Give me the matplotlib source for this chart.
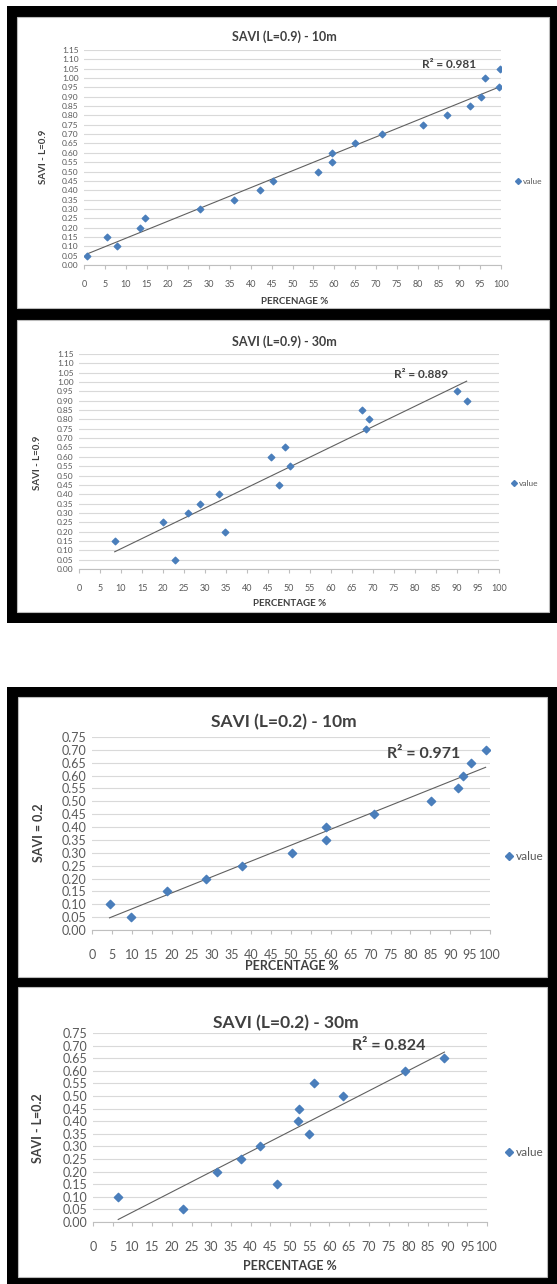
import numpy as np
import matplotlib
matplotlib.use("Agg")
import matplotlib.pyplot as plt
from matplotlib.patches import Rectangle
from matplotlib.lines import Line2D

plt.rcParams['font.family'] = ['Lato', 'DejaVu Sans']

# ---- data ----
# SAVI (L=0.9) - 10m
pct_09_10 = [0.8, 5.4, 7.8, 13.5, 14.7, 27.9, 35.9, 42.3, 45.4, 56.1, 59.5,
             59.5, 64.9, 71.5, 81.2, 87.0, 92.5, 95.1, 96.2, 99.6, 99.8]
savi_09_10 = [0.05, 0.15, 0.10, 0.20, 0.25, 0.30, 0.35, 0.40, 0.45, 0.50, 0.55,
              0.60, 0.65, 0.70, 0.75, 0.80, 0.85, 0.90, 1.00, 0.95, 1.05]
# SAVI (L=0.9) - 30m
pct_09_30 = [8.5, 20.1, 22.8, 26.0, 28.7, 33.3, 34.7, 45.6, 47.7, 49.1, 50.3,
             67.3, 68.3, 69.1, 89.9, 92.3]
savi_09_30 = [0.15, 0.25, 0.05, 0.30, 0.35, 0.40, 0.20, 0.60, 0.45, 0.65, 0.55,
              0.85, 0.75, 0.80, 0.95, 0.90]
# SAVI (L=0.2) - 10m
pct_02_10 = [4.4, 9.7, 18.9, 28.7, 37.8, 50.3, 58.7, 58.9, 70.8, 85.3, 92.0,
             93.1, 95.3, 98.9]
savi_02_10 = [0.10, 0.05, 0.15, 0.20, 0.25, 0.30, 0.35, 0.40, 0.45, 0.50, 0.55,
              0.60, 0.65, 0.70]
# SAVI (L=0.2) - 30m
pct_02_30 = [6.4, 22.8, 31.4, 37.5, 42.4, 46.7, 52.0, 52.4, 54.8, 56.0, 63.4,
             79.1, 89.2]
savi_02_30 = [0.10, 0.05, 0.20, 0.25, 0.30, 0.15, 0.40, 0.45, 0.35, 0.55, 0.50,
              0.60, 0.65]

titles = ["SAVI (L=0.9) - 10m", "SAVI (L=0.9) - 30m",
          "SAVI (L=0.2) - 10m", "SAVI (L=0.2) - 30m"]
ylabels = ["SAVI - L=0.9", "SAVI - L=0.9", "SAVI = 0.2", "SAVI - L=0.2"]
xlabels = ["PERCENAGE %", "PERCENTAGE %", "PERCENTAGE %", "PERCENTAGE %"]
r2_texts = ["R² = 0.981", "R² = 0.889", "R² = 0.971", "R² = 0.824"]
ymax = [1.15, 1.15, 0.75, 0.75]

W, H = 557, 1284
fig = plt.figure(figsize=(W / 100, H / 100), dpi=100)
fig.patch.set_facecolor('white')


def fx(x):
    return x / W


def fy(y):
    return 1 - y / H


def rect(x0, y0, x1, y1, **kw):
    fig.patches.append(Rectangle((fx(x0), fy(y1)), fx(x1) - fx(x0), fy(y0) - fy(y1),
                                 transform=fig.transFigure, zorder=-10, **kw))


# black frames and white chart areas
rect(7, 6, 557, 623, facecolor='black', edgecolor='none')
rect(7, 687, 557, 1284, facecolor='black', edgecolor='none')
rect(17, 17, 549, 308, facecolor='white', edgecolor='#bbbbbb', lw=0.8)
rect(17, 320, 549, 612, facecolor='white', edgecolor='#bbbbbb', lw=0.8)
rect(18, 697, 547, 977, facecolor='white', edgecolor='#bbbbbb', lw=0.8)
rect(18, 987, 547, 1277, facecolor='white', edgecolor='#bbbbbb', lw=0.8)

# plot boxes in pixels: left, right, top, bottom
boxes = [(84, 501, 50, 265), (79, 499, 354, 569),
         (92, 490, 737, 930), (93, 487, 1033, 1222)]
title_pos = [(284, 37), (284, 342), (284, 722), (286, 1023)]
ylab_pos = [(43, 157), (37, 463), (39, 833), (38, 1128)]
xlab_pos = [(295, 302), (290, 603), (292, 966), (290, 1266)]
leg_pos = [(510, 181), (506, 483), (497, 857), (497, 1153)]
r2_pos = [(81, 1.07), (75, 1.043), (74, 0.684), (65.7, 0.698)]

xs = [pct_09_10, pct_09_30, pct_02_10, pct_02_30]
ys = [savi_09_10, savi_09_30, savi_02_10, savi_02_30]

blue = '#4a7ebb'
txt = '#404040'

for i in range(4):
    small = i < 2
    l, r, t, b = boxes[i]
    ax = fig.add_axes([fx(l), fy(b), fx(r) - fx(l), fy(t) - fy(b)])
    ax.set_facecolor('none')
    x = np.array(xs[i])
    y = np.array(ys[i])

    # trendline over data range
    k, c = np.polyfit(x, y, 1)
    xl = np.array([x.min(), x.max()])
    ax.plot(xl, k * xl + c, color='#606060', lw=0.8, zorder=2)
    ax.scatter(x, y, marker='D', s=11 if small else 18, color=blue, zorder=3)

    ax.set_xlim(0, 100)
    ax.set_ylim(0, ymax[i])
    ax.set_xticks(np.arange(0, 101, 5))
    ax.set_yticks(np.arange(0, ymax[i] + 0.001, 0.05))
    ax.set_yticklabels(['%.2f' % v for v in np.arange(0, ymax[i] + 0.001, 0.05)])
    ax.grid(axis='y', color='#d9d9d9', lw=0.8)
    ax.set_axisbelow(True)
    for s in ['left', 'right', 'top']:
        ax.spines[s].set_visible(False)
    ax.spines['bottom'].set_color('#bfbfbf')
    ax.tick_params(axis='y', length=0, pad=4, labelsize=6 if small else 9,
                   labelcolor='#595959')
    ax.tick_params(axis='x', length=3, color='#bfbfbf', pad=8 if small else 11,
                   labelsize=6.5 if small else 9, labelcolor='#595959')

    ax.text(r2_pos[i][0], r2_pos[i][1], r2_texts[i], ha='left', va='center',
            fontsize=8.5 if small else 11.5, fontweight='bold', color=txt)

    fig.text(fx(title_pos[i][0]), fy(title_pos[i][1]), titles[i], ha='center',
             va='center', fontsize=9 if small else 12.5, fontweight='bold', color=txt)
    fig.text(fx(ylab_pos[i][0]), fy(ylab_pos[i][1]), ylabels[i], ha='center',
             va='center', rotation=90, fontsize=7 if small else 9,
             fontweight='bold', color=txt)
    fig.text(fx(xlab_pos[i][0]), fy(xlab_pos[i][1]), xlabels[i], ha='center',
             va='center', fontsize=7 if small else 9, fontweight='bold', color=txt)

    h = Line2D([], [], marker='D', ls='none', color=blue, markersize=3 if small else 4)
    ax.legend([h], ['value'], loc='center left', frameon=False,
              bbox_to_anchor=(fx(leg_pos[i][0]), fy(leg_pos[i][1])),
              bbox_transform=fig.transFigure, fontsize=6 if small else 8.5,
              handletextpad=0.1, borderpad=0, handlelength=1,
              labelcolor='#595959')

fig.savefig('out.png', dpi=100)
